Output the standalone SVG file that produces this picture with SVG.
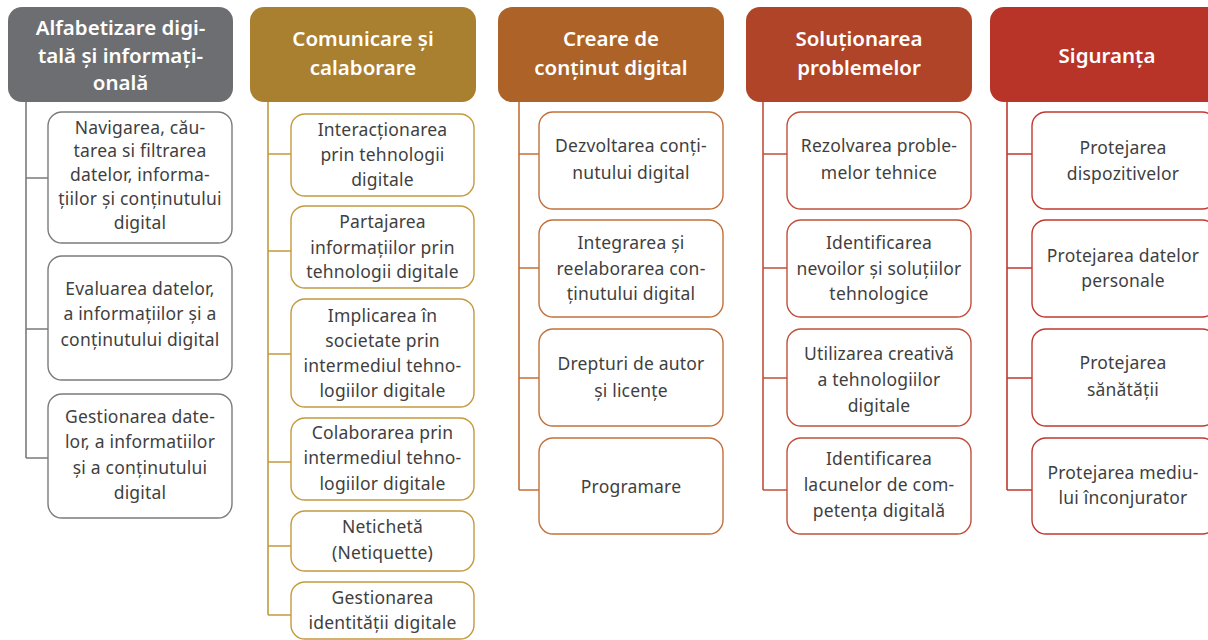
<svg xmlns="http://www.w3.org/2000/svg" width="1208" height="640" viewBox="0 0 1208 640">
<style>
.h{font-family:"Noto Sans","Liberation Sans",sans-serif;font-size:20.5px;font-weight:600;fill:#fff;text-anchor:middle}
.t{font-family:"Noto Sans","Liberation Sans",sans-serif;font-size:17.5px;fill:#3f3f3f;text-anchor:middle;letter-spacing:0.2px}
.b{fill:#fff;stroke-width:1.4}
.c{fill:none;stroke-width:1.6}
.g1{stroke:#7a7b7e}.g2{stroke:#c49a3f}.g3{stroke:#c2703a}.g4{stroke:#c0503a}.g5{stroke:#c0392f}
</style>
<rect width="1208" height="640" fill="#fff"/>
<g id="connectors">
<path class="c g1" d="M26 102V458M26 178H48M26 329H48M26 458H48"/>
<path class="c g2" d="M268 102V615M268 154H291M268 251H291M268 354H291M268 462H291M268 546H291M268 615H291"/>
<path class="c g3" d="M519 102V490M519 154H539M519 268H539M519 378H539M519 490H539"/>
<path class="c g4" d="M763 102V490M763 154H787M763 268H787M763 378H787M763 490H787"/>
<path class="c g5" d="M1007 102V490M1007 154H1032M1007 268H1032M1007 378H1032M1007 490H1032"/>
</g>
<g id="h1"><rect x="8" y="7" width="225" height="95" rx="14" fill="#6d6e71"/>
<text class="h" x="120.5"><tspan x="120.5" y="35">Alfabetizare digi-</tspan><tspan x="120.5" y="63">tală și informați-</tspan><tspan x="120.5" y="90">onală</tspan></text></g>
<g id="h2"><rect x="250" y="7" width="226" height="95" rx="14" fill="#a97f30"/>
<text class="h"><tspan x="363" y="46">Comunicare și</tspan><tspan x="363" y="75">calaborare</tspan></text></g>
<g id="h3"><rect x="498" y="7" width="226" height="95" rx="14" fill="#ad6328"/>
<text class="h"><tspan x="611" y="46">Creare de</tspan><tspan x="611" y="75">conținut digital</tspan></text></g>
<g id="h4"><rect x="746" y="7" width="226" height="95" rx="14" fill="#b04428"/>
<text class="h"><tspan x="859" y="46">Soluționarea</tspan><tspan x="859" y="75">problemelor</tspan></text></g>
<g id="h5"><rect x="990" y="7" width="234" height="95" rx="14" fill="#b83428"/>
<text class="h"><tspan x="1107" y="63">Siguranța</tspan></text></g>

<g id="n1a"><rect class="b g1" x="48" y="112" width="184" height="131" rx="14"/>
<text class="t"><tspan x="140" y="134">Navigarea, cău-</tspan><tspan x="140" y="157">tarea si filtrarea</tspan><tspan x="140" y="181">datelor, informa-</tspan><tspan x="140" y="205">țiilor și conținutului</tspan><tspan x="140" y="229">digital</tspan></text></g>
<g id="n1b"><rect class="b g1" x="48" y="256" width="184" height="124" rx="14"/>
<text class="t"><tspan x="140" y="295">Evaluarea datelor,</tspan><tspan x="140" y="320">a informațiilor și a</tspan><tspan x="140" y="346">conținutului digital</tspan></text></g>
<g id="n1c"><rect class="b g1" x="48" y="394" width="184" height="124" rx="14"/>
<text class="t"><tspan x="140" y="423">Gestionarea date-</tspan><tspan x="140" y="448">lor, a informatiilor</tspan><tspan x="140" y="474">și a conținutului</tspan><tspan x="140" y="499">digital</tspan></text></g>

<g id="n2a"><rect class="b g2" x="291" y="114" width="183" height="82" rx="14"/>
<text class="t"><tspan x="382.5" y="136">Interacționarea</tspan><tspan x="382.5" y="161">prin tehnologii</tspan><tspan x="382.5" y="186">digitale</tspan></text></g>
<g id="n2b"><rect class="b g2" x="291" y="206" width="183" height="82" rx="14"/>
<text class="t"><tspan x="382.5" y="228">Partajarea</tspan><tspan x="382.5" y="254">informațiilor prin</tspan><tspan x="382.5" y="278">tehnologii digitale</tspan></text></g>
<g id="n2c"><rect class="b g2" x="291" y="299" width="183" height="108" rx="14"/>
<text class="t"><tspan x="382.5" y="322">Implicarea în</tspan><tspan x="382.5" y="347">societate prin</tspan><tspan x="382.5" y="372">intermediul tehno-</tspan><tspan x="382.5" y="397">logiilor digitale</tspan></text></g>
<g id="n2d"><rect class="b g2" x="291" y="418" width="183" height="82" rx="14"/>
<text class="t"><tspan x="382.5" y="439">Colaborarea prin</tspan><tspan x="382.5" y="464">intermediul tehno-</tspan><tspan x="382.5" y="490">logiilor digitale</tspan></text></g>
<g id="n2e"><rect class="b g2" x="291" y="511" width="183" height="60" rx="14"/>
<text class="t"><tspan x="382.5" y="533">Netichetă</tspan><tspan x="382.5" y="559">(Netiquette)</tspan></text></g>
<g id="n2f"><rect class="b g2" x="291" y="582" width="183" height="57" rx="14"/>
<text class="t"><tspan x="382.5" y="604">Gestionarea</tspan><tspan x="382.5" y="629">identității digitale</tspan></text></g>

<g id="n3a"><rect class="b g3" x="539" y="112" width="184" height="97" rx="14"/>
<text class="t"><tspan x="631" y="152">Dezvoltarea conți-</tspan><tspan x="631" y="179">nutului digital</tspan></text></g>
<g id="n3b"><rect class="b g3" x="539" y="220" width="184" height="97" rx="14"/>
<text class="t"><tspan x="631" y="249">Integrarea și</tspan><tspan x="631" y="275">reelaborarea con-</tspan><tspan x="631" y="300">ținutului digital</tspan></text></g>
<g id="n3c"><rect class="b g3" x="539" y="329" width="184" height="97" rx="14"/>
<text class="t"><tspan x="631" y="370">Drepturi de autor</tspan><tspan x="631" y="397">și licențe</tspan></text></g>
<g id="n3d"><rect class="b g3" x="539" y="438" width="184" height="96" rx="14"/>
<text class="t"><tspan x="631" y="493">Programare</tspan></text></g>

<g id="n4a"><rect class="b g4" x="787" y="112" width="184" height="97" rx="14"/>
<text class="t"><tspan x="879" y="152">Rezolvarea proble-</tspan><tspan x="879" y="179">melor tehnice</tspan></text></g>
<g id="n4b"><rect class="b g4" x="787" y="220" width="184" height="97" rx="14"/>
<text class="t"><tspan x="879" y="249">Identificarea</tspan><tspan x="879" y="275">nevoilor și soluțiilor</tspan><tspan x="879" y="300">tehnologice</tspan></text></g>
<g id="n4c"><rect class="b g4" x="787" y="329" width="184" height="97" rx="14"/>
<text class="t"><tspan x="879" y="360">Utilizarea creativă</tspan><tspan x="879" y="386">a tehnologiilor</tspan><tspan x="879" y="412">digitale</tspan></text></g>
<g id="n4d"><rect class="b g4" x="787" y="438" width="184" height="96" rx="14"/>
<text class="t"><tspan x="879" y="465">Identificarea</tspan><tspan x="879" y="491">lacunelor de com-</tspan><tspan x="879" y="517">petența digitală</tspan></text></g>

<g id="n5a"><rect class="b g5" x="1032" y="112" width="184" height="97" rx="14"/>
<text class="t"><tspan x="1123" y="154">Protejarea</tspan><tspan x="1123" y="180">dispozitivelor</tspan></text></g>
<g id="n5b"><rect class="b g5" x="1032" y="220" width="184" height="97" rx="14"/>
<text class="t"><tspan x="1123" y="262">Protejarea datelor</tspan><tspan x="1123" y="287">personale</tspan></text></g>
<g id="n5c"><rect class="b g5" x="1032" y="329" width="184" height="97" rx="14"/>
<text class="t"><tspan x="1123" y="369">Protejarea</tspan><tspan x="1123" y="396">sănătății</tspan></text></g>
<g id="n5d"><rect class="b g5" x="1032" y="438" width="184" height="96" rx="14"/>
<text class="t"><tspan x="1123" y="479">Protejarea mediu-</tspan><tspan x="1123" y="504">lui înconjurator</tspan></text></g>
</svg>
